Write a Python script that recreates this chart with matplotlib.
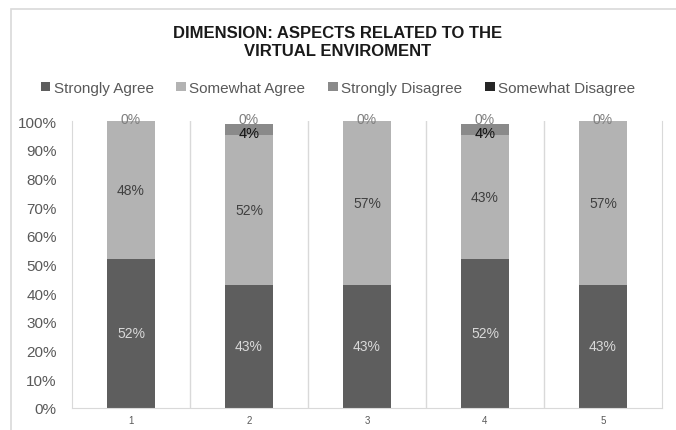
import matplotlib.pyplot as plt
import numpy as np
from matplotlib.patches import Rectangle

plt.rcParams['font.family'] = ['Liberation Sans', 'DejaVu Sans']

# data (percent)
categories = ['1', '2', '3', '4', '5']
strongly_agree = [52, 43, 43, 52, 43]
somewhat_agree = [48, 52, 57, 43, 57]
strongly_disagree = [0, 4, 0, 4, 0]
somewhat_disagree = [0, 0, 0, 0, 0]

series_names = ['Strongly Agree', 'Somewhat Agree', 'Strongly Disagree', 'Somewhat Disagree']
colors = ['#5e5e5e', '#b3b3b3', '#8a8a8a', '#262626']

fig = plt.figure(figsize=(6.76, 4.31), dpi=100)
# chart frame
fig.patches.append(Rectangle((11 / 676, -0.1), 1.2, (431 - 10) / 431 + 0.1,
                             transform=fig.transFigure, fill=False,
                             edgecolor='#d9d9d9', linewidth=1.2))

ax = fig.add_axes([72 / 676, 22 / 431, (662 - 72) / 676, (409 - 122) / 431])
x = np.arange(len(categories))
w = 0.4

b1 = ax.bar(x, strongly_agree, w, color=colors[0], label=series_names[0])
bot = np.array(strongly_agree)
b2 = ax.bar(x, somewhat_agree, w, bottom=bot, color=colors[1], label=series_names[1])
bot = bot + np.array(somewhat_agree)
b3 = ax.bar(x, strongly_disagree, w, bottom=bot, color=colors[2], label=series_names[2])
bot = bot + np.array(strongly_disagree)
b4 = ax.bar(x, somewhat_disagree, w, bottom=bot, color=colors[3], label=series_names[3])

for i in range(len(categories)):
    ax.text(x[i], strongly_agree[i] / 2, f'{strongly_agree[i]}%', ha='center', va='center',
            fontsize=10, color='#d9d9d9')
    ax.text(x[i], strongly_agree[i] + somewhat_agree[i] / 2, f'{somewhat_agree[i]}%',
            ha='center', va='center', fontsize=10, color='#404040')
    if strongly_disagree[i] > 0:
        y = strongly_agree[i] + somewhat_agree[i] + strongly_disagree[i] / 2
        ax.text(x[i], y - 1.2, f'{strongly_disagree[i]}%', ha='center', va='center',
                fontsize=10.5, color='#111111')
    ax.text(x[i], 100.8, f'{somewhat_disagree[i]}%', ha='center', va='center',
            fontsize=10, color='#7f7f7f')

ax.set_xlim(-0.5, 4.5)
ax.set_ylim(0, 100)
ax.set_yticks(np.arange(0, 101, 10))
ax.set_yticklabels([f'{v}%' for v in range(0, 101, 10)])
ax.set_xticks(x)
ax.set_xticklabels(categories)
ax.set_xticks(np.arange(0.5, 4.5, 1), minor=True)
ax.grid(which='minor', axis='x', color='#d9d9d9', linewidth=1)
ax.tick_params(axis='y', length=0, labelsize=11, labelcolor='#595959', pad=11)
ax.tick_params(axis='x', which='both', length=0, labelsize=7, labelcolor='#595959', pad=5)
ax.spines['top'].set_visible(False)
for s in ['left', 'bottom', 'right']:
    ax.spines[s].set_color('#d9d9d9')
ax.set_axisbelow(True)

fig.text(0.5, (431 - 33) / 431, 'DIMENSION: ASPECTS RELATED TO THE', ha='center', va='center',
         fontsize=12, fontweight='bold', color='#1a1a1a')
fig.text(0.5, (431 - 51) / 431, 'VIRTUAL ENVIROMENT', ha='center', va='center',
         fontsize=12, fontweight='bold', color='#1a1a1a')

fig.legend(handles=[b1, b2, b3, b4], loc='center', bbox_to_anchor=(0.5, (431 - 89) / 431),
           ncol=4, frameon=False, fontsize=11, labelcolor='#595959',
           handlelength=0.6, handleheight=0.6, handletextpad=0.25, columnspacing=1.5)

fig.savefig('out.png', dpi=100)
